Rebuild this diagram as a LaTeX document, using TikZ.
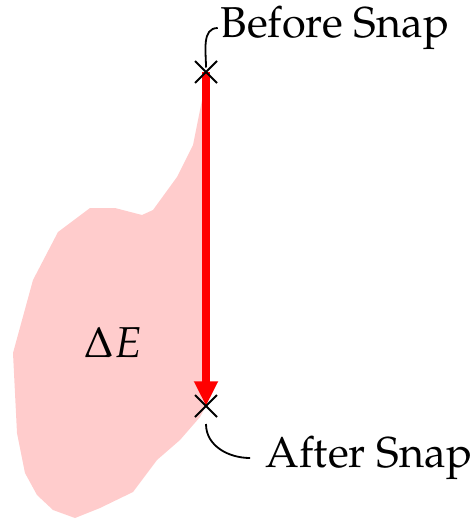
\documentclass[tikz,border=0pt]{standalone}
\usepackage[T1]{fontenc}
\usepackage{mathpazo}
\usepackage{tikz}
\usetikzlibrary{arrows.meta}

\begin{document}
\begin{tikzpicture}[x=0.2222pt,y=-0.2222pt,
  every node/.style={font=\fontsize{9.6}{11}\selectfont}]
\useasboundingbox (0,0) rectangle (472,519);
% energy region
\fill[red!20] (206,72) -- (202,100) -- (193,145) -- (177,177) -- (153,210)
  -- (142,215) -- (115,208) -- (90,208) -- (58,232) -- (33,280) -- (13,353)
  -- (17,433) -- (25,473) -- (37,495) -- (53,510) -- (75,518) -- (100,508)
  -- (133,492) -- (157,460) -- (180,440) -- (200,417) -- (206,406) -- cycle;
\node (dE) at (113,342) {$\Delta E$};

\coordinate (p1) at (206,72);
\coordinate (p2) at (206,406);
\node[inner sep=0.5pt] (before) at (335,28) {Before Snap};
%\node (after) [below right of=p2] {After Snap};
\node (after) at (369,458) {After Snap};

\draw[red, line width=1.6pt, -{Triangle[length=5.5pt,width=5pt]}] (p1) -- (p2);
\draw (p1) +(-11,-11) -- +(11,11) +(-11,11) -- +(11,-11);
\draw (p2) +(-11,-11) -- +(11,11) +(-11,11) -- +(11,-11);

\draw ([yshift=1pt]p1) to[out=90,in=180] (before.west);
\draw ([yshift=-4pt]p2) to[out=-90,in=180] (after.west);
\end{tikzpicture}
\end{document}
